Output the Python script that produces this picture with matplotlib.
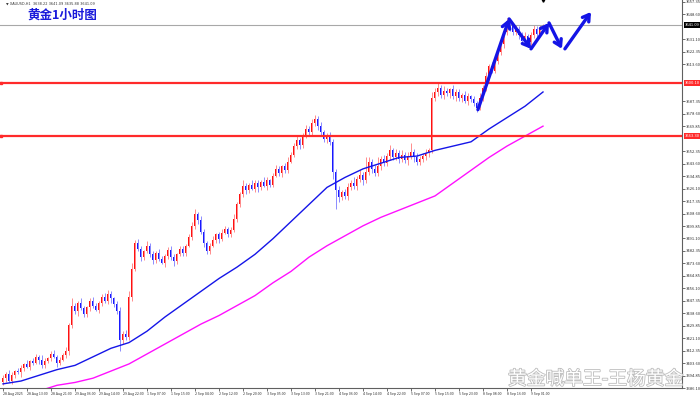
import matplotlib.pyplot as plt
import matplotlib.patheffects as pe
import matplotlib.transforms as mtransforms
import numpy as np

plt.rcParams['font.family'] = ['Noto Sans CJK SC', 'DejaVu Sans']

# XAUUSD H1, 28 Aug - 9 Sep 2025
first_open = 3390.0
close = [
    3393, 3396, 3391, 3395, 3398, 3397, 3400, 3403, 3401, 3405, 3404, 3408, 3406, 3402, 3405, 3407, 3410, 3408, 3404, 3406, 3409,
    3412, 3430, 3444, 3440, 3446, 3442, 3438, 3443, 3447, 3444, 3441, 3446, 3450, 3447, 3452, 3449, 3445, 3440, 3420, 3424, 3422,
    3450, 3470, 3488, 3484, 3478, 3482, 3486, 3480, 3476, 3481, 3477, 3474, 3479, 3483, 3478, 3475, 3480, 3484, 3481, 3486,
    3492, 3500, 3508, 3504, 3496, 3488, 3482, 3486, 3490, 3494, 3491, 3495, 3498, 3494, 3497, 3505, 3515, 3522, 3528, 3525,
    3529, 3526, 3530, 3527, 3531, 3528, 3532, 3529, 3535, 3540, 3537, 3542, 3539, 3545, 3550, 3556, 3560, 3557, 3563, 3568,
    3566, 3572, 3575, 3570, 3566, 3561, 3563, 3559, 3538, 3525, 3520, 3524, 3521, 3527, 3530, 3528, 3533, 3536, 3532, 3538,
    3545, 3540, 3537, 3542, 3547, 3544, 3549, 3553, 3548, 3551, 3547, 3550, 3546, 3549, 3552, 3548, 3545, 3547, 3549, 3551,
    3553, 3590, 3594, 3597, 3592, 3595, 3593, 3596, 3591, 3594, 3590, 3592, 3588, 3591, 3589, 3586, 3583, 3590, 3597, 3605,
    3612, 3609, 3616, 3622, 3628, 3636, 3642, 3640, 3636, 3638, 3634, 3630, 3633, 3629, 3634, 3638, 3635, 3639, 3641.09,
]
upper_wick = [
    2, 1, 3, 2, 1, 2, 2, 1, 3, 1, 2, 2, 1, 3, 2, 1, 2, 3, 1, 2,
    2, 3, 2, 5, 2, 1, 3, 2, 1, 2, 3, 2, 1, 2, 3, 3, 2, 1, 2, 3,
    2, 3, 4, 4, 2, 3, 2, 1, 3, 2, 2, 1, 3, 2, 1, 2, 3, 2, 1, 2,
    2, 1, 2, 3, 4, 2, 3, 2, 1, 2, 3, 1, 2, 3, 2, 1, 2, 3, 2, 2,
    4, 2, 1, 3, 2, 2, 1, 3, 2, 1, 2, 3, 2, 1, 2, 3, 2, 2, 3, 2,
    2, 3, 2, 3, 3, 2, 3, 1, 2, 3, 2, 2, 3, 1, 2, 3, 2, 4, 2, 3,
    2, 10, 3, 2, 3, 6, 2, 3, 2, 4, 2, 3, 2, 3, 2, 3, 6, 2, 3, 2,
    2, 3, 2, 4, 3, 3, 2, 3, 2, 1, 3, 2, 2, 1, 3, 2, 1, 2, 2, 3,
    2, 3, 2, 3, 2, 2, 3, 2, 4, 3, 2, 3, 2, 2, 3, 2, 2, 3, 2, 2, 1,
]
lower_wick = [
    2, 3, 1, 2, 2, 1, 3, 2, 1, 2, 2, 1, 3, 2, 2, 1, 2, 1, 3, 2,
    1, 2, 3, 2, 2, 3, 1, 2, 2, 3, 2, 1, 2, 2, 1, 2, 3, 2, 2, 8,
    3, 2, 2, 3, 2, 2, 3, 2, 1, 2, 3, 2, 2, 1, 3, 2, 2, 3, 2, 1,
    2, 2, 1, 2, 2, 3, 2, 3, 2, 2, 1, 2, 3, 2, 1, 2, 2, 1, 2, 2,
    2, 3, 2, 1, 2, 3, 2, 1, 3, 2, 2, 1, 2, 3, 2, 2, 1, 2, 2, 3,
    2, 1, 3, 2, 2, 3, 2, 2, 3, 2, 5, 13, 3, 2, 2, 3, 2, 2, 3, 2,
    3, 2, 2, 3, 2, 2, 3, 2, 2, 3, 2, 2, 3, 2, 2, 3, 2, 3, 2, 2,
    2, 3, 3, 2, 2, 3, 2, 3, 2, 3, 2, 3, 2, 3, 2, 3, 2, 2, 3, 2,
    2, 2, 3, 2, 2, 2, 2, 3, 2, 3, 2, 2, 3, 2, 2, 3, 2, 2, 3, 2, 2,
]

# moving averages, sampled every 6 bars
ma_blue_bars = list(range(0, 181, 6))
ma_blue = [3389, 3391, 3395, 3399, 3402, 3408, 3414, 3418, 3426, 3436, 3445, 3454, 3463, 3471, 3480, 3491,
           3503, 3515, 3527, 3534, 3540, 3544, 3548, 3549, 3553, 3556, 3559, 3568, 3576, 3584, 3594]
ma_pink_bars = list(range(12, 181, 6))
ma_pink = [3384, 3388, 3390, 3393, 3398, 3403, 3410, 3417, 3424, 3431, 3437, 3444, 3451, 3460, 3468,
           3478, 3486, 3493, 3500, 3506, 3511, 3516, 3521, 3530, 3539, 3548, 3556, 3563, 3570]

levels = [3600.10, 3563.30]
last_price = 3641.09

x_labels = ['28 Aug 2025', '28 Aug 13:00', '28 Aug 21:00', '29 Aug 06:00', '29 Aug 14:00', '29 Aug 22:00',
            '1 Sep 07:00', '1 Sep 15:00', '2 Sep 04:00', '2 Sep 12:00', '2 Sep 20:00', '3 Sep 05:00',
            '3 Sep 13:00', '3 Sep 21:00', '4 Sep 06:00', '4 Sep 14:00', '4 Sep 22:00', '5 Sep 07:00',
            '5 Sep 15:00', '5 Sep 23:00', '8 Sep 08:00', '8 Sep 16:00', '9 Sep 01:00']

# hand drawn arrows (bar, price)
arrow_path = [((158.3, 3581.6), (168.7, 3645.3)),
              ((168.7, 3645.3), (176.0, 3624.3)),
              ((176.0, 3624.3), (182.0, 3642.5)),
              ((182.0, 3642.5), (186.3, 3624.3)),
              ((187.3, 3624.3), (196.0, 3650.2))]

close = np.array(close, dtype=float)
open_ = np.concatenate([[first_open], close[:-1]])
high = np.maximum(open_, close) + np.array(upper_wick)
low = np.minimum(open_, close) - np.array(lower_wick)
bars = np.arange(len(close))
up = close >= open_

fig = plt.figure(figsize=(7, 3.97), dpi=100)
ax = fig.add_axes([0, 9 / 397, 682 / 700, 1 - 9 / 397])

# wicks
ax.vlines(bars[up], low[up], high[up], color='#ff8c8c', lw=0.7)
ax.vlines(bars[~up], low[~up], high[~up], color='#8c8cff', lw=0.7)
# bodies
body = np.maximum(np.abs(close - open_), 0.6)
ax.bar(bars[up], body[up], bottom=np.minimum(open_, close)[up], width=0.62, color='#ff1010', lw=0)
ax.bar(bars[~up], body[~up], bottom=np.minimum(open_, close)[~up], width=0.62, color='#1818ff', lw=0)

ax.plot(ma_blue_bars, ma_blue, color='#1515e8', lw=1.0)
ax.plot(ma_pink_bars, ma_pink, color='#ff10ff', lw=1.0)

for lv in levels:
    ax.axhline(lv, color='#ff2a2a', lw=1.6)
    ax.plot(-0.7, lv, marker='s', ms=1.8, color='#ff2a2a', clip_on=False)
ax.axhline(last_price, color='#a8a8a8', lw=0.8)

for start, end in arrow_path:
    ax.annotate('', xy=end, xytext=start,
                arrowprops=dict(arrowstyle='->,head_length=0.45,head_width=0.28',
                                lw=2.4, color='#1414e6', shrinkA=0, shrinkB=0))

ax.set_xlim(-1, 226.33)
ax.set_ylim(3387.0, 3658.6)
ax.plot(180, 3658.6, marker='v', ms=2.5, color='black', clip_on=False)

for s in ['top', 'left']:
    ax.spines[s].set_visible(False)
for s in ['right', 'bottom']:
    ax.spines[s].set_color('#606060')
    ax.spines[s].set_linewidth(0.8)

# price axis
special = levels + [last_price]
yt = [v for v in np.arange(3657.35, 3386, -8.75) if min(abs(v - s) for s in special) > 5]
ax.yaxis.tick_right()
ax.set_yticks(yt)
ax.set_yticklabels(['%.2f' % v for v in yt])
ax.tick_params(axis='y', labelsize=3, length=2, width=0.5, pad=1, colors='#333333')

trans = mtransforms.blended_transform_factory(ax.transAxes, ax.transData)
for lv, fc in [(levels[0], '#ff2a2a'), (levels[1], '#ff2a2a'), (last_price, 'black')]:
    ax.text(1.004, lv, '%.2f' % lv, transform=trans, fontsize=3, color='white', va='center', ha='left',
            bbox=dict(boxstyle='square,pad=0.25', fc=fc, ec='none'))

ax.set_xticks(np.arange(0, 8 * len(x_labels), 8))
ax.set_xticklabels(x_labels, ha='left')
ax.tick_params(axis='x', labelsize=2.6, length=2, width=0.5, pad=0.8, colors='#333333')

fig.text(6 / 700, 1 - 4 / 397, '\u25bc XAUUSD,H1  3638.22 3641.09 3635.88 3641.09', fontsize=2.5,
         color='#333333', va='center', family='DejaVu Sans')
fig.text(27 / 700, 1 - 15 / 397, '黄金1小时图', fontsize=9, fontweight='bold', color='#1a1adb', va='center')
fig.text(508 / 700, 1 - 379 / 397, '黄金喊单王-王杨黄金', fontsize=13.5, color='white', va='center',
         path_effects=[pe.withStroke(linewidth=1.2, foreground='#bdbdbd')])

fig.savefig('out.png', dpi=100)
